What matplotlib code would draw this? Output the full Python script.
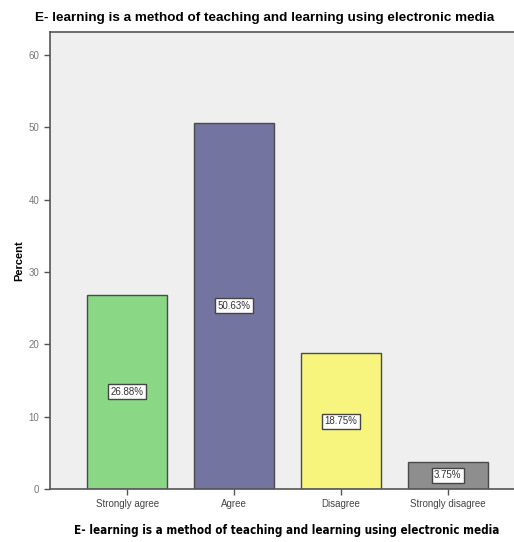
import matplotlib
matplotlib.use('Agg')
import matplotlib.pyplot as plt

# Response shares
categories = ['Strongly agree', 'Agree', 'Disagree', 'Strongly disagree']
percents = [26.88, 50.63, 18.75, 3.75]
bar_colors = ['#8ad786', '#7474a0', '#f8f57f', '#8e8e8e']
yticks = [0, 10, 20, 30, 40, 50, 60]

title = 'E- learning is a method of teaching and learning using electronic media'

plt.rcParams['font.family'] = ['Liberation Sans Narrow', 'Liberation Sans', 'DejaVu Sans']

fig = plt.figure(figsize=(5.14, 5.42), dpi=100)
fig.patch.set_facecolor('white')
ax = fig.add_axes([0.097, 0.098, 0.905, 0.843])
ax.set_facecolor('#efefef')

x = list(range(len(categories)))
ax.bar(x, percents, width=0.75, color=bar_colors, edgecolor='#4a4a4a', linewidth=1.0, zorder=2)

# percentage labels in the middle of each bar
for xi, p in zip(x, percents):
    ax.text(xi, p / 2, f'{p:.2f}%', ha='center', va='center', fontsize=7, color='#333333', zorder=3,
            bbox=dict(boxstyle='square,pad=0.25', facecolor='white', edgecolor='#444444', linewidth=1.0))

ax.set_xlim(-0.724, 3.63)
ax.set_ylim(0, 63.2)
ax.set_yticks(yticks)
ax.set_xticks(x)
ax.set_xticklabels(categories)
ax.tick_params(axis='both', labelsize=7, colors='#555555', length=4, width=1, labelcolor='#444444')
ax.tick_params(axis='y', labelcolor='#777777')

for side in ['left', 'bottom', 'top']:
    ax.spines[side].set_color('#555555')
    ax.spines[side].set_linewidth(1.2)
ax.spines['right'].set_visible(False)

ax.set_ylabel('Percent', fontsize=8, fontweight='bold', family=['Liberation Sans', 'DejaVu Sans'], labelpad=3)
ax.set_xlabel(title, fontsize=8.4, fontweight='bold', fontstretch='condensed', family=['DejaVu Sans'])
ax.xaxis.set_label_coords(0.51, -0.076)
fig.text(0.515, 0.966, title, ha='center', va='center', fontsize=9.7, fontweight='bold',
         family=['Liberation Sans', 'DejaVu Sans'])

fig.savefig('out.png', dpi=100)
